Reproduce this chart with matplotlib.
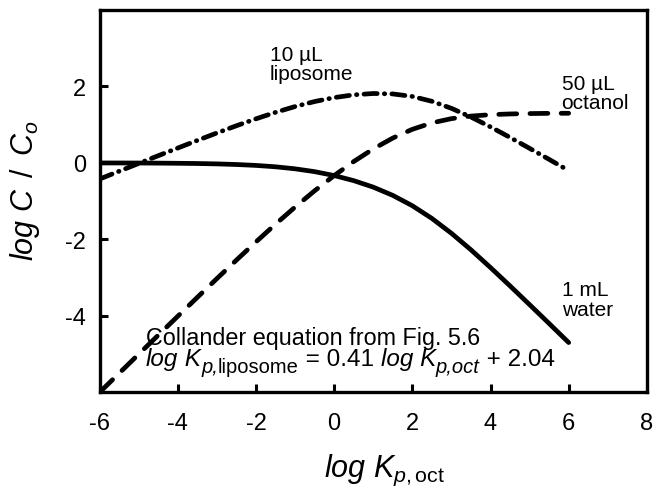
import numpy as np
import matplotlib
matplotlib.use("Agg")
import matplotlib.pyplot as plt

plt.rcParams['font.family'] = ['Liberation Sans', 'DejaVu Sans']
plt.rcParams['mathtext.fontset'] = 'custom'
plt.rcParams['mathtext.rm'] = 'Liberation Sans'
plt.rcParams['mathtext.it'] = 'Liberation Sans:italic'
plt.rcParams['mathtext.bf'] = 'Liberation Sans:bold'
plt.rcParams['axes.unicode_minus'] = False

# log Kp,oct values
log_kow = [-6.0, -5.5, -5.0, -4.5, -4.0, -3.5, -3.0, -2.5, -2.0, -1.5, -1.0, -0.5,
           0.0, 0.5, 1.0, 1.5, 2.0, 2.5, 3.0, 3.5, 4.0, 4.5, 5.0, 5.5, 6.0]
# 1 mL water
water = [-0.002, -0.003, -0.004, -0.007, -0.011, -0.017, -0.027, -0.043, -0.067, -0.103,
         -0.156, -0.230, -0.332, -0.465, -0.635, -0.851, -1.122, -1.454, -1.843, -2.276,
         -2.740, -3.220, -3.710, -4.204, -4.702]
# 10 uL liposome
liposome = [-0.422, -0.218, -0.014, 0.188, 0.389, 0.588, 0.783, 0.972, 1.153, 1.322,
            1.474, 1.605, 1.708, 1.780, 1.815, 1.804, 1.738, 1.611, 1.427, 1.199,
            0.941, 0.665, 0.380, 0.091, -0.202]
# 50 uL octanol
octanol = [-6.002, -5.503, -5.004, -4.507, -4.011, -3.517, -3.027, -2.543, -2.067, -1.603,
           -1.156, -0.730, -0.332, 0.035, 0.365, 0.649, 0.878, 1.046, 1.157, 1.224,
           1.261, 1.280, 1.290, 1.296, 1.298]

x_ticks = [-6, -4, -2, 0, 2, 4, 6, 8]
y_ticks = [-4, -2, 0, 2]

fig = plt.figure(figsize=(6.56, 4.89), dpi=100)
ax = fig.add_axes([0.152, 0.196, 0.834, 0.7815])

lw = 3.4
ax.plot(log_kow, water, color='black', lw=lw, solid_capstyle='round')
ax.plot(log_kow, liposome, color='black', lw=lw, dashes=(2.8, 1.5, 0.1, 1.5),
        dash_capstyle='round')
ax.plot(log_kow, octanol, color='black', lw=lw, dashes=(3.8, 2.8),
        dash_capstyle='round')

ax.set_xlim(-6, 8)
ax.set_ylim(-6, 4)
ax.set_xticks(x_ticks)
ax.set_yticks(y_ticks)
ax.tick_params(direction='in', length=6, width=2.2, labelsize=17)
ax.tick_params(axis='x', pad=14)
ax.tick_params(axis='y', pad=10)
for s in ax.spines.values():
    s.set_linewidth(2.4)

ax.set_xlabel(r'$\mathit{log}\ K_{p,\mathrm{oct}}$', fontsize=22)
ax.set_ylabel(r'$\mathit{log\ C\ \,/\ \,C_o}$', fontsize=22)
ax.xaxis.set_label_coords(0.52, -0.155)
ax.yaxis.set_label_coords(-0.105, 0.53)

ax.text(-1.65, 2.08, '10 \u00b5L\nliposome', fontsize=15, ha='left', va='bottom',
        linespacing=1.05)
ax.text(5.82, 1.32, '50 \u00b5L\noctanol', fontsize=15, ha='left', va='bottom',
        linespacing=1.05)
ax.text(5.82, -4.08, '1 mL\nwater', fontsize=15, ha='left', va='bottom',
        linespacing=1.05)
ax.text(-4.82, -4.74, 'Collander equation from Fig. 5.6', fontsize=16.8, ha='left',
        va='baseline')

# second line built piece by piece so the subscripts keep a readable size
y2 = -5.29
pieces = [('log', 17.5, 'italic', 0), (' K', 17.5, 'italic', 0),
          ('p,', 14.5, 'italic', -5), ('liposome', 14.5, 'normal', -5),
          (' = 0.41 ', 17.5, 'normal', 0), ('log K', 17.5, 'italic', 0),
          ('p,oct', 14.5, 'italic', -5), (' + 2.04', 17.5, 'normal', 0)]
prev = None
for s, size, style, dy in pieces:
    if prev is None:
        prev = ax.text(-4.82, y2, s, fontsize=size, fontstyle=style, ha='left',
                       va='baseline')
    else:
        prev = ax.annotate(s, xy=(1, y2), xycoords=(prev, 'data'),
                           xytext=(0, dy), textcoords='offset points',
                           fontsize=size, fontstyle=style, ha='left', va='baseline')

fig.savefig('out.png', dpi=100)
